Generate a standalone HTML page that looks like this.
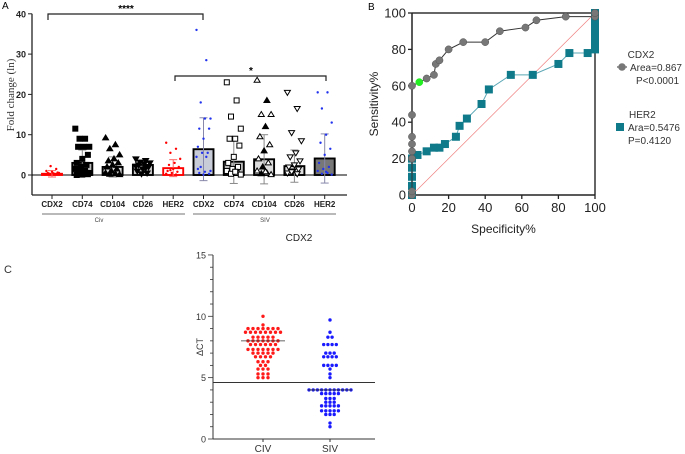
<!DOCTYPE html>
<html><head><meta charset="utf-8"><style>
body{margin:0;background:#fff}
svg{display:block;font-family:"Liberation Sans",sans-serif}
</style></head><body>
<svg id="fig" width="685" height="454" viewBox="0 0 685 454">
<g id="pa"></g>
<g id="pb"></g>
<g id="pc"></g>
</svg>
<script>
// ---------- Panel A data ----------
const catsA = ["CDX2","CD74","CD104","CD26","HER2","CDX2","CD74","CD104","CD26","HER2"];
const meansA = [0.3,3.0,2.0,2.5,1.7,6.4,3.3,3.9,2.2,4.1];
const sdA = [0.8,3.2,2.5,1.2,2.1,7.8,5.4,6.1,4.0,6.1];
const ticksA = [0,10,20,30,40];
const dotsA = [
 [0.1,0.2,0.3,0.3,0.4,0.5,0.6,0.8,1,1.5,2.2,0.2,0.1,0.3,0.5,0.4,0.2],
 [11.5,9,9,7,7,7,5,4,3,2.5,2,1.5,1,1,0.5,0.5,0.3,0.2,0.1,0],
 [9.2,7.5,6.5,5,4,3.5,3,2.5,2,1.5,1,0.5,0.3,0.2,0.1],
 [4,3.6,3.2,3,2.8,2.5,2,1.5,1,0.5,0.3,2.2,1.8],
 [8,6.5,5.5,4,3,2.5,2,1.5,1,0.8,0.5,0.3,0.1,1.2],
 [36,28.5,18,14,14,11.5,11.5,9,7,5.5,5.5,4.5,4.5,2,1,0.8,0.5,0.3,0.1,1.5],
 [23,18.5,14.5,11.5,9,9,7.3,4.5,3,2,1.5,1,0.5,0.3,0.1,0.8],
 [23.5,18.5,15,15,12,9.5,7.5,6,4,3,2,1,0.5,0.3,0.1,0.8],
 [20.5,16.5,10.5,8.5,5.5,4.5,3.5,2.5,2,1.5,1,0.5,0.3,0.8],
 [20.5,20.5,16.5,13,10,8,6.5,5,3,2,1.5,1,0.5,0.3,0.1,0.8]
];
// ---------- Panel B data ----------
const cdx2Spec = [0,0,0,0,0,0,0,0,4,8,12,13,15,20,28,40,48,62,68,84,100,100];
const cdx2Sens = [0,2,20,24,28,32,44,60,62,64,66,72,74,80,84,84,90,92,96,98,98,100];
const her2Spec = [0,0,0,0,0,0,3,8,12,15,18,24,26,30,38,42,54,66,80,86,96,100,100,100,100,100,100,100,100,100,100];
const her2Sens = [0,5,10,15,20,20,22,24,26,26,28,32,38,42,50,58,66,66,72,78,78,80,82,84,86,88,90,92,95,98,100];
const ticksB = [0,20,40,60,80,100];
// ---------- Panel C data ----------
const civVals = [10,9.3,9,9,9,9,9,9,9,8.7,8.7,8.7,8.7,8.7,8.7,8.7,8.7,8.3,8.3,8.3,8.3,8.3,8,8,8,8,8,8,8,7.7,7.7,7.7,7.7,7.7,7.7,7.3,7.3,7.3,7.3,7.3,7.3,7.3,7,7,7,7,7,6.7,6.7,6.7,6.7,6.3,6.3,6.3,6,6,5.7,5.7,5.7,5.3,5.3,5.3,5,5,5];
const sivVals = [9.7,8.7,8.3,8.3,7.7,7.7,7.7,7.7,7,7,7,6.7,6.7,6.7,6.7,6,6,6,6,5.7,5.3,5,4,4,4,4,4,4,4,4,4,4,4,3.7,3.7,3.7,3.7,3.7,3.3,3.3,3.3,3,3,3,2.7,2.7,2.7,2.7,2.7,2.3,2.3,2.3,2.3,2.3,2,2,2,1.3,1];
const groupsC = ["CIV","SIV"];
const meanC = [8,4];
const cutoffC = 4.6;
const ticksC = [0,5,10,15];

const NS="http://www.w3.org/2000/svg";
function mk(parent,tag,attrs,txt){const e=document.createElementNS(NS,tag);for(const k in attrs)e.setAttribute(k,attrs[k]);if(txt!==undefined)e.textContent=txt;parent.appendChild(e);return e;}

// ===== Panel A =====
(function(){
const g=document.getElementById('pa');
const yA=v=>175-v*4.03;
const xA=i=>52+i*30.3;
let t=mk(g,'text',{x:2,y:9,'font-size':10},'A');

let ax=mk(g,'line',{x1:32,y1:yA(40),x2:32,y2:195,stroke:'#222','stroke-width':1.3});

ax=mk(g,'line',{x1:32,y1:195,x2:347,y2:195,stroke:'#222','stroke-width':1.3});

mk(g,'line',{x1:32,y1:yA(0),x2:347,y2:yA(0),stroke:'#000','stroke-width':1});
ticksA.forEach(v=>{
 mk(g,'line',{x1:28,y1:yA(v),x2:32,y2:yA(v),stroke:'#222'});
 const l=mk(g,'text',{x:26,y:yA(v)+3.5,'font-size':9,'font-weight':'bold','text-anchor':'end',fill:'#222'},v);
 
});
const yt=mk(g,'text',{x:0,y:0,'font-size':11,'font-family':'"Liberation Serif",serif','text-anchor':'middle',fill:'#333',transform:'translate(14,95) rotate(-90)'},'Fold change (ln)');

const fills=['#fff','#bbb','#ddd','#ccc','#fff','#c8cbd8','#bbb','#ddd','#ddd','#777'];
const dotCol=['red','#000','#000','#000','red','#2233ee','#000','#000','#000','#2233ee'];
const shapes=['dot','sq','tri','itri','dot','dot','osq','otri','oitri','dot'];
catsA.forEach((c,i)=>{
 const x=xA(i),m=meansA[i],s=sdA[i];
 const b=mk(g,'rect',{x:x-10,y:Math.min(yA(m),yA(0)),width:20,height:Math.abs(yA(0)-yA(m)),fill:fills[i],stroke:i==0||i==4?'red':'#000','stroke-width':1.9});
 
 const ec=i==5||i==9?'#88a':(i==0||i==4?'#f66':'#888');
 mk(g,'line',{x1:x,y1:yA(m+s),x2:x,y2:yA(m-s),stroke:ec,'stroke-width':1});
 mk(g,'line',{x1:x-4,y1:yA(m+s),x2:x+4,y2:yA(m+s),stroke:ec});
 mk(g,'line',{x1:x-4,y1:yA(m-s),x2:x+4,y2:yA(m-s),stroke:ec});
 dotsA[i].forEach((v,j)=>{
  const dx=((j*7)%11-5)*1.4;
  const px=x+dx,py=yA(v);const col=dotCol[i];let e;
  const sh=shapes[i];
  if(sh=='dot')e=mk(g,'circle',{cx:px,cy:py,r:1.2,fill:col});
  else if(sh=='sq'||sh=='osq')e=mk(g,'rect',{x:px-2.5,y:py-2.5,width:5,height:5,fill:sh=='sq'?'#000':'#fff',stroke:'#000','stroke-width':1});
  else if(sh=='tri'||sh=='otri')e=mk(g,'path',{d:`M${px},${py-3}L${px+3},${py+2}L${px-3},${py+2}Z`,fill:(sh=='tri'||j%3==1)?'#000':'#fff',stroke:'#000','stroke-width':1});
  else e=mk(g,'path',{d:`M${px},${py+3}L${px+3},${py-2}L${px-3},${py-2}Z`,fill:sh=='itri'?'#000':'#fff',stroke:'#000','stroke-width':1});
  
 });
 mk(g,'line',{x1:x,y1:195,x2:x,y2:199,stroke:'#222'});
 const l=mk(g,'text',{x:x,y:207,'font-size':8,'font-weight':'bold','text-anchor':'middle',fill:'#222'},c);
 
});
mk(g,'line',{x1:42,y1:214,x2:185,y2:214,stroke:'#444','stroke-width':0.7});
mk(g,'line',{x1:193,y1:214,x2:336,y2:214,stroke:'#444','stroke-width':0.7});
let gl=mk(g,'text',{x:99,y:222,'font-size':6,'text-anchor':'middle',fill:'#444'},'Civ');

gl=mk(g,'text',{x:265,y:222,'font-size':6,'text-anchor':'middle',fill:'#444'},'SIV');

mk(g,'path',{d:'M48,20V14H203V20',fill:'none',stroke:'#222','stroke-width':1.2});
let s=mk(g,'text',{x:126,y:12,'font-size':10,'font-weight':'bold','text-anchor':'middle'},'****');

mk(g,'path',{d:'M175,81V76H326V81',fill:'none',stroke:'#222','stroke-width':1.2});
s=mk(g,'text',{x:251,y:74,'font-size':10,'font-weight':'bold','text-anchor':'middle'},'*');

})();

// ===== Panel B =====
(function(){
const g=document.getElementById('pb');
const xB=s=>412+s*1.83, yB=v=>195-v*1.82;
let t=mk(g,'text',{x:368,y:10,'font-size':10},'B');

mk(g,'line',{x1:xB(0),y1:yB(0),x2:xB(100),y2:yB(100),stroke:'#f08080','stroke-width':0.7});
mk(g,'path',{d:`M${xB(0)},${yB(100)}H${xB(100)}V${yB(0)}`,fill:'none',stroke:'#333','stroke-width':1.5});
let a=mk(g,'line',{x1:xB(0),y1:yB(100),x2:xB(0),y2:yB(0),stroke:'#222','stroke-width':1.5});

a=mk(g,'line',{x1:xB(0),y1:yB(0),x2:xB(100),y2:yB(0),stroke:'#222','stroke-width':1.5});

ticksB.forEach(v=>{
 mk(g,'line',{x1:xB(0)-4,y1:yB(v),x2:xB(0),y2:yB(v),stroke:'#222','stroke-width':1.3});
 let l=mk(g,'text',{x:xB(0)-6,y:yB(v)+4.5,'font-size':13,'text-anchor':'end',fill:'#222'},v);
 
 mk(g,'line',{x1:xB(v),y1:yB(0),x2:xB(v),y2:yB(0)+4,stroke:'#222','stroke-width':1.3});
 l=mk(g,'text',{x:xB(v),y:yB(0)+17,'font-size':13,'text-anchor':'middle',fill:'#222'},v);
 
});
let tt=mk(g,'text',{x:0,y:0,'font-size':12,'text-anchor':'middle',fill:'#222',transform:'translate(378,104) rotate(-90)'},'Sensitivity%');

tt=mk(g,'text',{x:xB(50),y:233,'font-size':12,'text-anchor':'middle',fill:'#222'},'Specificity%');

// HER2
let d='';her2Spec.forEach((s,i)=>{d+=(i?'L':'M')+xB(s)+','+yB(her2Sens[i]);});
let p=mk(g,'path',{d:d,fill:'none',stroke:'#5aa6b4','stroke-width':1});

her2Spec.forEach((s,i)=>{const r=mk(g,'rect',{x:xB(s)-4,y:yB(her2Sens[i])-4,width:8,height:8,fill:'#0f7a8a'});
 });
// CDX2
d='';cdx2Spec.forEach((s,i)=>{d+=(i?'L':'M')+xB(s)+','+yB(cdx2Sens[i]);});
p=mk(g,'path',{d:d,fill:'none',stroke:'#333','stroke-width':1});

cdx2Spec.forEach((s,i)=>{const c=mk(g,'circle',{cx:xB(s),cy:yB(cdx2Sens[i]),r:3.6,fill:i==8?'#22ee22':'#777',stroke:i==8?'#22ee22':'#555','stroke-width':0.5});
 });
// legend
const L=mk(g,'g',{});
const e1=mk(L,'g',{});
mk(e1,'text',{x:641,y:58,'font-size':10,'text-anchor':'middle',fill:'#333'},'CDX2');
mk(e1,'line',{x1:617,y1:67,x2:627,y2:67,stroke:'#333'});
mk(e1,'circle',{cx:622,cy:67,r:3.8,fill:'#777'});
mk(e1,'text',{x:630,y:71,'font-size':10,fill:'#333'},'Area=0.867');
mk(e1,'text',{x:636,y:84,'font-size':10,fill:'#333'},'P<0.0001');
const e2=mk(L,'g',{});
mk(e2,'text',{x:629,y:118,'font-size':10,fill:'#333'},'HER2');
mk(e2,'rect',{x:616,y:123,width:8,height:8,fill:'#0f7a8a'});
mk(e2,'text',{x:628,y:131,'font-size':10,fill:'#333'},'Ara=0.5476');
mk(e2,'text',{x:628,y:144,'font-size':10,fill:'#333'},'P=0.4120');
})();

// ===== Panel C =====
(function(){
const g=document.getElementById('pc');
const yC=v=>439-v*12.27;
const xC=i=>263+i*67;
let t=mk(g,'text',{x:4,y:273,'font-size':11,fill:'#333'},'C');

t=mk(g,'text',{x:299,y:241,'font-size':10,'text-anchor':'middle',fill:'#222'},'CDX2');

let a=mk(g,'line',{x1:213,y1:yC(15),x2:213,y2:439,stroke:'#333','stroke-width':1});

a=mk(g,'line',{x1:213,y1:439,x2:375,y2:439,stroke:'#333','stroke-width':1});

for(let v=0;v<=15;v++)mk(g,'line',{x1:v%5==0?208:210,y1:yC(v),x2:213,y2:yC(v),stroke:'#333','stroke-width':0.8});
ticksC.forEach(v=>{const l=mk(g,'text',{x:206,y:yC(v)+3.5,'font-size':9,'text-anchor':'end',fill:'#333'},v);
 });
t=mk(g,'text',{x:0,y:0,'font-size':9,'text-anchor':'middle',fill:'#333',transform:'translate(203,347) rotate(-90)'},'ΔCT');

[civVals,sivVals].forEach((vals,gi)=>{
 const x0=xC(gi);const col=gi?'#1a1aff':'#ff1a1a';
 const groups={};vals.forEach(v=>{(groups[v]=groups[v]||[]).push(v);});
 const sp=gi?4.2:5;
 Object.keys(groups).forEach(k=>{const n=groups[k].length;groups[k].forEach((v,j)=>{
  const c=mk(g,'circle',{cx:x0+(j-(n-1)/2)*sp,cy:yC(v),r:1.7,fill:col});
  });});
 const m=mk(g,'line',{x1:x0-22,y1:yC(meanC[gi]),x2:x0+22,y2:yC(meanC[gi]),stroke:'#333','stroke-width':0.8});
 
 mk(g,'line',{x1:x0,y1:439,x2:x0,y2:442,stroke:'#333'});
 const l=mk(g,'text',{x:x0,y:452,'font-size':10,'text-anchor':'middle',fill:'#333'},groupsC[gi]);
 
});
const cl=mk(g,'line',{x1:213,y1:yC(cutoffC),x2:375,y2:yC(cutoffC),stroke:'#333','stroke-width':1});

})();
</script>
</body></html>
